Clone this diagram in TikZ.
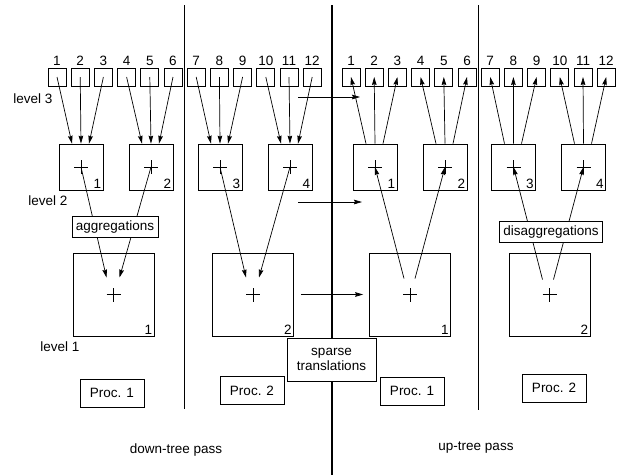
\documentclass[tikz,border=0pt]{standalone}
\usepackage{fontspec}
\setmainfont{Liberation Sans}
\usetikzlibrary{arrows.meta, positioning, calc}

\begin{document}
\begin{tikzpicture}[x=1pt, y=-1pt, font=\fontsize{13.5}{15}\selectfont,
      >={Stealth[length=8pt, width=4.6pt, inset=1pt]},
      leaf/.style={draw, line width=0.7pt, minimum size=18pt, inner sep=0pt},
      cell/.style={draw, line width=0.7pt, minimum width=44pt,
                   minimum height=46pt, inner sep=0pt,
                   path picture={\draw[line width=0.7pt]
                     (path picture bounding box.center) +(-7pt,0) -- +(7pt,0)
                     +(0,-7pt) -- +(0,7pt);}},
      root/.style={cell, minimum width=81pt, minimum height=83pt},
      cnum/.style={label={[anchor=south east, inner sep=2pt]south east:#1}},
      tag/.style={draw, fill=white, line width=0.7pt, inner sep=4pt},
      proc/.style={draw, line width=0.7pt, minimum width=64pt,
                   minimum height=28pt, inner sep=2pt},
      flow/.style={->, line width=0.7pt},
      divider/.style={line width=0.8pt}]
    \useasboundingbox (0,0) rectangle (618,475);

    % dividers between processors and passes
    \draw[divider] (184,5) -- (184,409);
    \draw[divider] (478,5) -- (478,410);
    \draw[line width=2pt] (332,5) -- (332,475);

    % level 3
    \foreach \i [evaluate=\i as \x using 57+23.2*(\i-1)] in {1,...,12}
      \node[leaf, label={[inner sep=2pt]above:\i}] (dl\i) at (\x,77) {};
    \foreach \i [evaluate=\i as \x using 351+23.2*(\i-1)] in {1,...,12}
      \node[leaf, label={[inner sep=2pt]above:\i}] (ul\i) at (\x,77) {};

    % level 2
    \node[cell, cnum=1] (dm1) at (81,167) {};
    \node[cell, cnum=2] (dm2) at (151,167) {};
    \node[cell, cnum=3] (dm3) at (220,167) {};
    \node[cell, cnum=4] (dm4) at (290,167) {};
    \node[cell, cnum=1] (um1) at (375,167) {};
    \node[cell, cnum=2] (um2) at (445,167) {};
    \node[cell, cnum=3] (um3) at (513.5,167) {};
    \node[cell, cnum=4] (um4) at (583.5,167) {};

    % level 1
    \node[root, cnum=1] (dt1) at (113.5,294.5) {};
    \node[root, cnum=2] (dt2) at (253,294.5) {};
    \node[root, cnum=1] (ut1) at (410,294.5) {};
    \node[root, cnum=2] (ut2) at (549.5,294.5) {};

    \node (lv3) at (33,99) {level 3};
    \node (lv2) at (48,201) {level 2};
    \node (lv1) at (60,347) {level 1};

    % down-tree pass
    \foreach \j/\a/\b/\c in {1/1/2/3, 2/4/5/6, 3/7/8/9, 4/10/11/12} {
      \draw[flow] (dl\a.center) -- ([xshift=-9pt]dm\j.north);
      \draw[flow] (dl\b.center) -- (dm\j.north);
      \draw[flow] (dl\c.center) -- ([xshift=8pt]dm\j.north);
    }
    \draw[flow] (dm1.center) -- ([shift={(-7pt,17pt)}]dt1.center);
    \draw[flow] (dm2.center) -- ([shift={(6pt,17pt)}]dt1.center);
    \draw[flow] (dm3.center) -- ([shift={(-7pt,17pt)}]dt2.center);
    \draw[flow] (dm4.center) -- ([shift={(6pt,17pt)}]dt2.center);

    % up-tree pass
    \foreach \j/\a/\b/\c in {1/1/2/3, 2/4/5/6, 3/7/8/9, 4/10/11/12} {
      \draw[flow] ([xshift=-9pt]um\j.north) -- (ul\a.center);
      \draw[flow] (um\j.north) -- (ul\b.center);
      \draw[flow] ([xshift=8pt]um\j.north) -- (ul\c.center);
    }
    \draw[flow] ([shift={(-6pt,16pt)}]ut1.center) -- (um1.center);
    \draw[flow] ([shift={(5pt,16pt)}]ut1.center) -- (um2.center);
    \draw[flow] ([shift={(-7pt,15pt)}]ut2.center) -- (um3.center);
    \draw[flow] ([shift={(4pt,15pt)}]ut2.center) -- (um4.center);

    % translations
    \coordinate (tr1) at (298,97);
    \coordinate (tr1e) at (360,97);
    \coordinate (tr2) at (298,202);
    \coordinate (tr2e) at (362,202);
    \draw[flow] (tr1) -- (tr1e);
    \draw[flow] (tr2) -- (tr2e);
    \draw[flow] ([xshift=7pt]dt2.east) -- ([xshift=-6pt]ut1.west);

    \node[tag, above=15pt of dt1, xshift=1.5pt] (agg) {aggregations};
    \node[tag, above=10pt of ut2, xshift=1.5pt] (dis) {disaggregations};
    \node[tag, align=center, minimum width=89pt, minimum height=43pt,
          inner sep=2pt] (spt) at (331.5,359.5) {sparse\\translations};

    \node[proc] (p1) at (112,393) {Proc. 1};
    \node[proc] (p2) at (252,390.5) {Proc. 2};
    \node[proc] (p3) at (412,391) {Proc. 1};
    \node[proc] (p4) at (554,388) {Proc. 2};

    \node (down) at (176,450) {down-tree pass};
    \node (up) at (476,448) {up-tree pass};
  \end{tikzpicture}
\end{document}
